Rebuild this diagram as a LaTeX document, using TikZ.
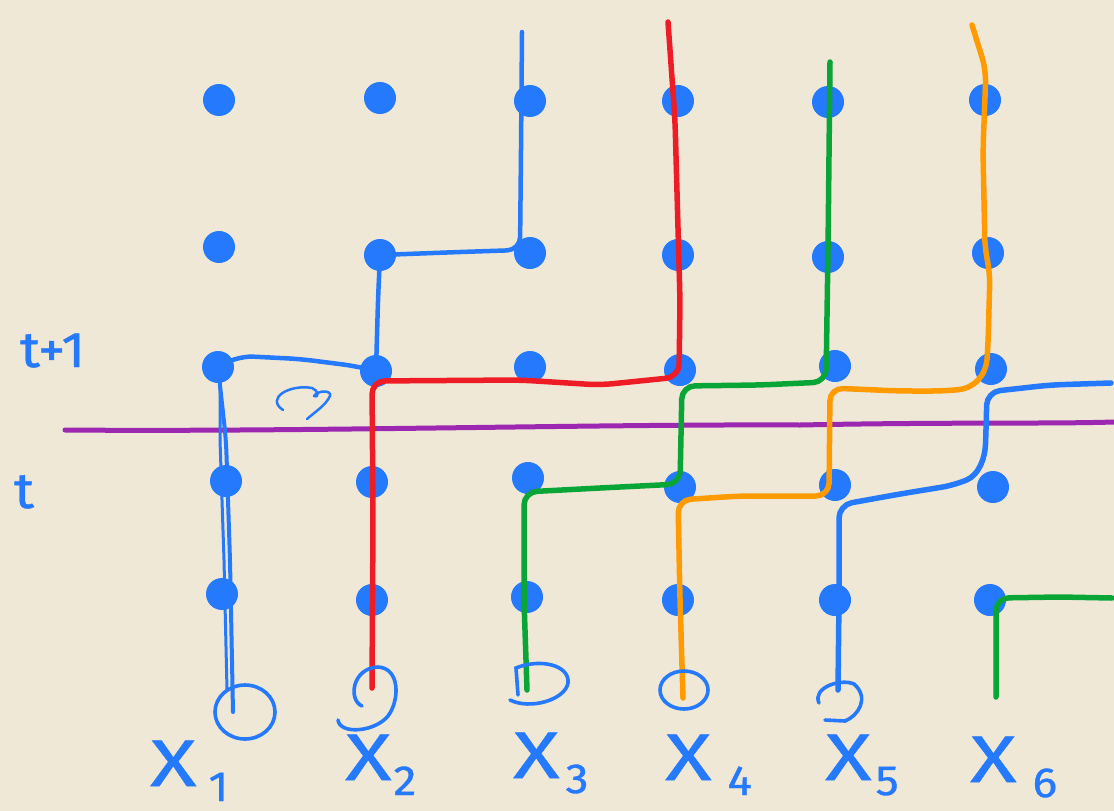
\documentclass[tikz,border=0pt]{standalone}
\usepackage{fontspec}
\setmainfont{Fira Sans}
\newfontfamily\handfont[FakeBold=0.8, FakeStretch=1.3]{Fira Sans}
\newfontfamily\handsubfont[FakeBold=0.8, FakeStretch=1.1]{Fira Sans}
\usetikzlibrary{calc}
\definecolor{paper}{HTML}{EFE8D7}
\definecolor{inkblue}{HTML}{2479FC}
\definecolor{inkred}{HTML}{EE1C25}
\definecolor{inkgreen}{HTML}{0AA537}
\definecolor{inkorange}{HTML}{FF9A00}
\definecolor{inkpurple}{HTML}{9C27B0}
\newcommand{\bigfont}{\handfont\fontsize{66}{66}\selectfont}
\newcommand{\subfont}{\handsubfont\fontsize{42}{42}\selectfont}
\newcommand{\timefont}{\handsubfont\fontsize{50}{50}\selectfont}
\newcommand{\sub}[2]{\hspace{#1pt}\raisebox{-15pt}{\subfont #2}}
\tikzset{
  dot/.style={circle, fill=inkblue, minimum size=32pt, inner sep=0pt},
  wire/.style={line width=5.5pt, line cap=round, line join=round, rounded corners=13pt},
  ring/.style={draw=inkblue, line width=3.6pt, line cap=round},
  lab/.style={text=inkblue, font=\bigfont, inner sep=0pt, anchor=base west},
  timelab/.style={text=inkblue, font=\timefont, inner sep=0pt, anchor=base west}
}
\begin{document}
\begin{tikzpicture}[x=1pt, y=-1pt]
\fill[paper] (0,0) rectangle (1114,811);
\useasboundingbox (0,0) rectangle (1114,811);

% grid of sites, rows 1..5 from top, columns 1..6
\foreach \n/\x/\y in {
  11/219/100, 12/380/98,  13/530/101, 14/678/101, 15/828/102, 16/985/100,
  21/219/247, 22/380/255, 23/530/253, 24/678/255, 25/828/257, 26/988/253,
  31/218/367, 32/376/371, 33/530/367, 34/680/370, 35/835/366, 36/991/369,
  41/226/481, 42/372/482, 43/528/478, 44/680/487, 45/835/485, 46/993/487,
  51/222/594, 52/372/600, 53/527/597, 54/678/600, 55/835/600, 56/990/600}
  \node[dot] (d\n) at (\x,\y) {};

% time boundary
\coordinate (pL) at (65,430);
\coordinate (pR) at (1114,422);
\draw[inkpurple, line width=5pt, line cap=round]
  (pL) .. controls (300,432) and (600,424) .. (800,425) .. controls (950,422) and (1050,424) .. (pR);

% free ends of the wires
\coordinate (top3) at (522,32);
\coordinate (top4) at (668,22);
\coordinate (top5) at (830,62);
\coordinate (top6) at (972,25);
\coordinate (end5) at (1111,383);
\coordinate (end6) at (1112,598);
\coordinate (b1) at (233,712);
\coordinate (b2) at (372,688);
\coordinate (b3) at (527,690);
\coordinate (b4) at (683,698);
\coordinate (b5) at (838,690);
\coordinate (b6) at (996,697);

% blue world line of X1 (doubled stroke)
\draw[wire, inkblue, line width=4pt] (b1) -- (230,560) -- (226,440) -- (d31.center);
\draw[wire, inkblue, line width=3pt, rounded corners=0pt] (227,690) -- (224,560) -- (220,440) -- (220,385);
\draw[wire, inkblue, line width=4.5pt] (d31.center) -- (240,356) -- (300,359) -- (355,366) -- (d32.center)
  -- (378,300) -- (d22.center) -- (460,252) -- (520,250) -- (521,150) -- (top3);

% red world line of X2
\draw[wire, inkred] (b2) -- (373,520) -- (372,381) -- (520,380) -- (600,385) -- (679,377)
  -- (680,300) -- (675,120) -- (top4);

% green world line of X3
\draw[wire, inkgreen] (b3) -- (524,600) -- (524,492) -- (600,488) -- (680,484)
  -- (682,386) -- (760,385) -- (826,382) -- (828,250) -- (top5);

% orange world line of X4
\draw[wire, inkorange] (b4) -- (680,600) -- (678,500) -- (740,496) -- (829,496)
  -- (830,388) -- (900,391) -- (945,391) .. controls (975,388) and (986,375) .. (988,345)
  -- (990,272) -- (985,250) -- (983,150) -- (986,70) -- (top6);

% blue world line of X5
\draw[wire, inkblue] (b5) -- (839,600) -- (839,505) -- (900,494) -- (955,485)
  .. controls (978,475) and (985,460) .. (986,430) -- (987,392) -- (1050,385) -- (end5);

% green world line of X6
\draw[wire, inkgreen] (b6) -- (996,640) -- (996,598) -- (1060,597) -- (end6);

% start markers under each line
\draw[ring] (245,712) ellipse [x radius=30, y radius=27];
\draw[ring] (362,706) .. controls (348,700) and (352,668) .. (378,667)
  .. controls (400,668) and (400,700) .. (388,716) .. controls (375,732) and (340,735) .. (338,720);
\draw[ring] (518,695) -- (516,668) .. controls (540,658) and (570,665) .. (568,683)
  .. controls (565,700) and (530,710) .. (510,700);
\draw[ring] (684,690) ellipse [x radius=24, y radius=19];
\draw[ring] (819,703) .. controls (812,688) and (840,678) .. (854,684)
  .. controls (870,698) and (858,716) .. (845,721) -- (825,720);

% small swap mark
\draw[inkblue, line width=2.5pt, line cap=round, line join=round]
  (283,410) .. controls (265,398) and (290,384) .. (312,388)
  .. controls (318,390) and (320,398) .. (314,396)
  .. controls (318,390) and (332,390) .. (330,396)
  .. controls (326,405) and (315,412) .. (307,419);

% time labels
\node[timelab] (tnext) at (20,367) {t+1};
\node[timelab] (tnow) at (14,508) {t};

% particle labels
\node[lab] (x1) at (150,786) {X\sub{12}{1}};
\node[lab] (x2) at (345,780) {X\sub{2}{2}};
\node[lab] (x3) at (513,778) {X\sub{6}{3}};
\node[lab] (x4) at (665,780) {X\sub{16}{4}};
\node[lab] (x5) at (825,780) {X\sub{4}{5}};
\node[lab] (x6) at (970,782) {X\sub{16}{6}};
\end{tikzpicture}
\end{document}
